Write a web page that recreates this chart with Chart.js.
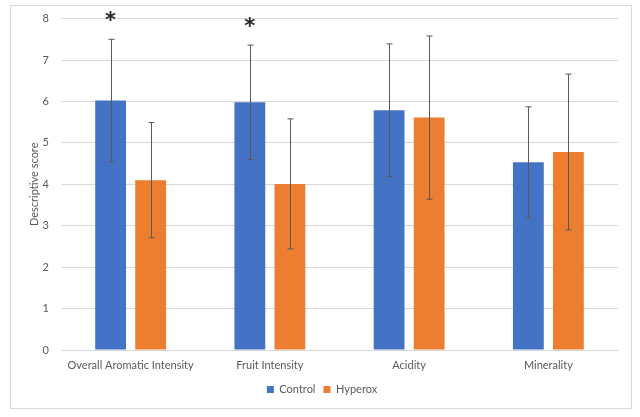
<!DOCTYPE html>
<html><head><meta charset="utf-8">
<script src="https://cdn.jsdelivr.net/npm/chart.js@4"></script>
<style>html,body{margin:0;padding:0;background:#fff}#wrap{width:640px;height:417px}</style>
</head><body><div id="wrap"><canvas id="c" width="640" height="417"></canvas></div>
<script>
const categories = ['Overall Aromatic Intensity', 'Fruit Intensity', 'Acidity', 'Minerality'];
const controlValues = [6.02, 5.98, 5.79, 4.53];
const controlErrors = [1.48, 1.38, 1.60, 1.34];
const hyperoxValues = [4.10, 4.01, 5.61, 4.78];
const hyperoxErrors = [1.39, 1.57, 1.97, 1.88];
const significance = ['*', '*', '', ''];
const yTicks = [0, 1, 2, 3, 4, 5, 6, 7, 8];

const errors = [controlErrors, hyperoxErrors];
const FONT = 'Lato, "Open Sans", sans-serif';

const errorBarPlugin = {
  id: 'errorBars',
  afterDatasetsDraw(chart) {
    const ctx = chart.ctx, y = chart.scales.y;
    ctx.save();
    ctx.strokeStyle = '#595959';
    ctx.lineWidth = 1;
    chart.data.datasets.forEach((ds, i) => {
      const meta = chart.getDatasetMeta(i);
      meta.data.forEach((bar, j) => {
        const v = ds.data[j], e = errors[i][j];
        const x = Math.round(bar.x) + 0.5;
        const yt = y.getPixelForValue(v + e), yb = y.getPixelForValue(v - e);
        ctx.beginPath();
        ctx.moveTo(x, yt); ctx.lineTo(x, yb);
        ctx.moveTo(x - 3, yt); ctx.lineTo(x + 3, yt);
        ctx.moveTo(x - 3, yb); ctx.lineTo(x + 3, yb);
        ctx.stroke();
      });
    });
    const meta0 = chart.getDatasetMeta(0);
    ctx.fillStyle = '#262626';
    ctx.font = 'bold 21px "DejaVu Sans", sans-serif';
    ctx.textAlign = 'center';
    ctx.textBaseline = 'middle';
    significance.forEach((s, j) => {
      if (!s) return;
      const bar = meta0.data[j];
      const yt = y.getPixelForValue(controlValues[j] + controlErrors[j]);
      ctx.fillText(s, bar.x, yt - 18);
    });
    ctx.restore();
  }
};

const borderPlugin = {
  id: 'outerBorder',
  beforeDraw(chart) {
    const ctx = chart.ctx;
    ctx.save();
    ctx.fillStyle = '#fff';
    ctx.fillRect(0, 0, chart.width, chart.height);
    ctx.strokeStyle = '#d9d9d9';
    ctx.lineWidth = 1;
    ctx.strokeRect(10.5, 5.5, 621, 403);
    ctx.restore();
  }
};

new Chart(document.getElementById('c'), {
  type: 'bar',
  data: {
    labels: categories,
    datasets: [
      { label: 'Control', data: controlValues, backgroundColor: '#4472C4', categoryPercentage: 0.575, barPercentage: 0.77 },
      { label: 'Hyperox', data: hyperoxValues, backgroundColor: '#ED7D31', categoryPercentage: 0.575, barPercentage: 0.77 }
    ]
  },
  options: {
    responsive: false,
    animation: false,
    devicePixelRatio: 1,
    layout: { padding: { left: 26, right: 22, top: 18, bottom: 12 } },
    plugins: {
      legend: {
        position: 'bottom',
        labels: { boxWidth: 7, boxHeight: 7, padding: 8, color: '#595959', font: { family: FONT, size: 11 } }
      },
      tooltip: { enabled: false }
    },
    scales: {
      x: {
        grid: { display: false, drawTicks: false },
        border: { color: '#d9d9d9' },
        ticks: { color: '#595959', font: { family: FONT, size: 11 }, padding: 9, maxRotation: 0 },
        afterFit(s) { s.height = 26; }
      },
      y: {
        min: 0, max: 8,
        afterBuildTicks(s) { s.ticks = yTicks.map(v => ({ value: v })); },
        grid: { color: '#d9d9d9', drawTicks: false },
        border: { display: false },
        ticks: { color: '#595959', font: { family: FONT, size: 11 }, padding: 12 },
        title: { display: true, text: 'Descriptive score', color: '#595959', font: { family: FONT, size: 11 }, padding: 2 },
        afterFit(s) { s.width = 35; }
      }
    }
  },
  plugins: [borderPlugin, errorBarPlugin]
});
</script></body></html>
